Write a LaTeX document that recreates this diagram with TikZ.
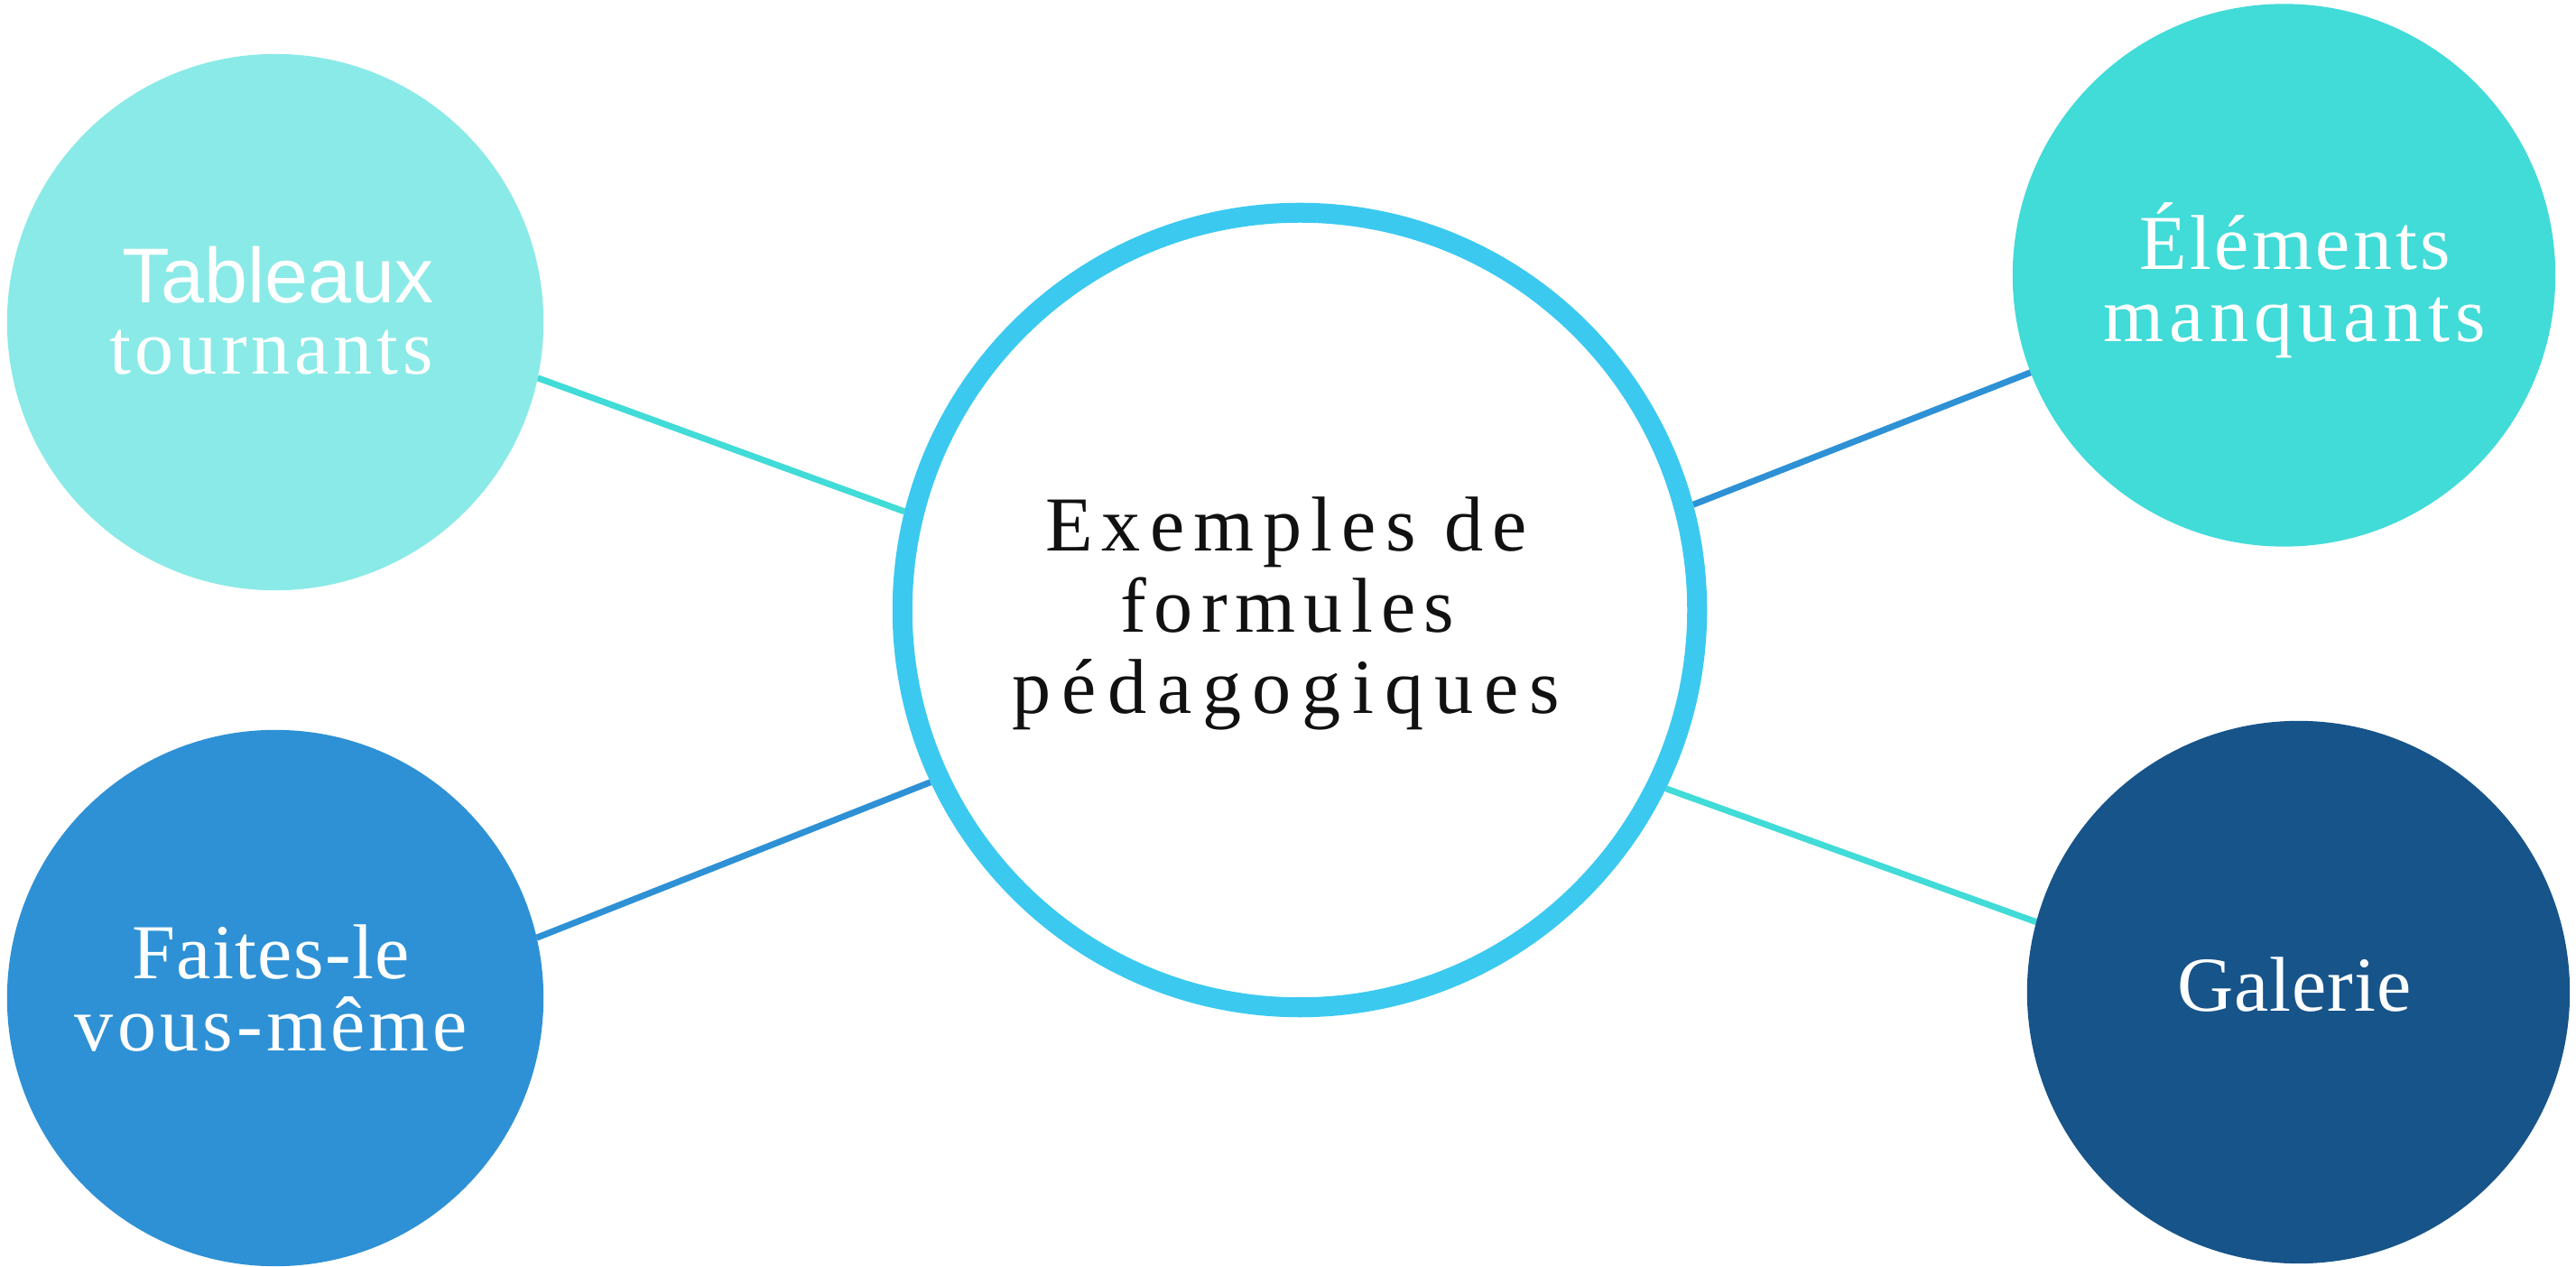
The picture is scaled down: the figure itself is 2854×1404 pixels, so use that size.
\documentclass[tikz,border=0pt]{standalone}
\usepackage{fontspec}
\setmainfont{Liberation Serif}
\newfontfamily\sansf{Liberation Sans}
\usetikzlibrary{backgrounds}
\definecolor{tlc}{HTML}{8AEAE7}
\definecolor{trc}{HTML}{41DBD8}
\definecolor{blc}{HTML}{2E91D5}
\definecolor{brc}{HTML}{17548A}
\definecolor{ringc}{HTML}{3BC9F0}
\definecolor{turq}{HTML}{41DBD8}
\definecolor{bluel}{HTML}{2E91D5}
\definecolor{textc}{HTML}{111111}
\newcommand{\ls}[2]{{\addfontfeatures{LetterSpace=#1}#2}}
\begin{document}
\begin{tikzpicture}[x=0.01cm,y=-0.01cm,
  sat/.style={circle, inner sep=0pt, outer sep=0pt},
  ringnode/.style={circle, draw=ringc, line width=0.22cm, fill=white, inner sep=0pt},
  txt/.style={anchor=base, inner sep=0pt, outer sep=0pt, text=white, font=\fontsize{24.5pt}{28pt}\selectfont},
  ctxt/.style={txt, text=textc},
  link/.style={line width=0.07cm}]
\useasboundingbox (0,0) rectangle (2854,1404);
% satellite circles
\node[sat, fill=tlc, minimum size=5.94cm] (tl) at (305,357) {};
\node[sat, fill=trc, minimum size=6.01cm] (tr) at (2530.5,305) {};
\node[sat, fill=blc, minimum size=5.94cm] (bl) at (305,1106) {};
\node[sat, fill=brc, minimum size=6.01cm] (br) at (2546.5,1099.5) {};
% central ring
\node[ringnode, minimum size=8.80cm] (c) at (1440,676) {};
% connectors
\begin{scope}[on background layer]
\draw[link, draw=turq] (tl.-12) -- (c.166);
\draw[link, draw=bluel] (bl.13.85) -- (c.205.7);
\draw[link, draw=bluel] (c.15.1) -- (tr.201.9);
\draw[link, draw=turq] (c.-26.3) -- (br.165.7);
\end{scope}
% central text
\node[ctxt] (c1) at (1425,611) {\ls{11.7}{Exemples de}};
\node[ctxt] (c2) at (1426,700.5) {\ls{10.5}{formules}};
\node[ctxt] (c3) at (1425,791) {\ls{14}{pédagogiques}};
% satellite texts
\node[txt] (tl1) at (308,336) {\sansf Tableaux};
\node[txt] (tl2) at (300.5,415) {\ls{5.5}{tournants}};
\node[txt] (tr1) at (2542.5,298.5) {\ls{4}{Éléments}};
\node[txt] (tr2) at (2542,378.6) {\ls{7.3}{manquants}};
\node[txt] (bl1) at (300,1085) {\ls{1.6}{Faites-le}};
\node[txt] (bl2) at (300.5,1165) {\ls{4.8}{vous-même}};
\node[txt] (br1) at (2542,1120) {\ls{1}{Galerie}};
\end{tikzpicture}
\end{document}
